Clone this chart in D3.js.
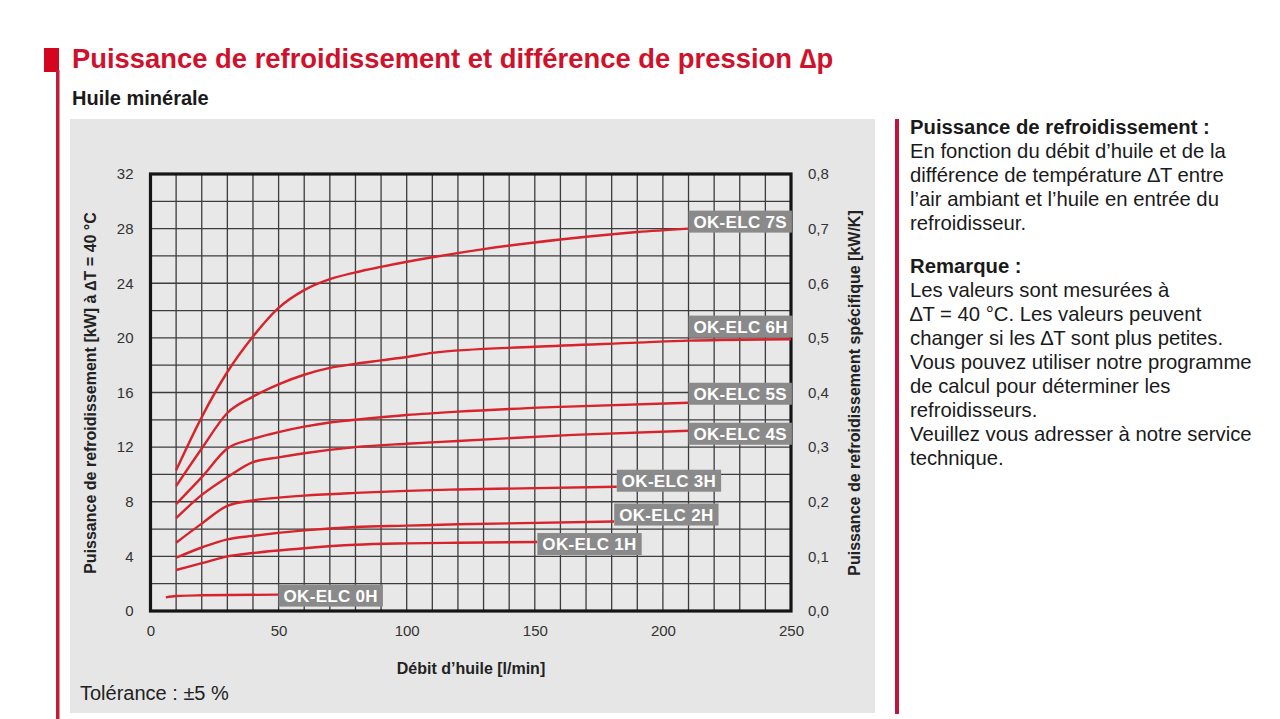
<!DOCTYPE html>
<html>
<head>
<meta charset="utf-8">
<script src="https://cdn.jsdelivr.net/npm/d3@7"></script>
<style>
  body { margin: 0; background: #fff; }
  svg { display: block; font-family: "Liberation Sans", Arial, sans-serif; }
</style>
</head>
<body>
<svg id="chart" width="1280" height="719"></svg>
<script>
(function () {
	'use strict';

	// values
	var flowTicks = [0, 50, 100, 150, 200, 250];
	var powerTicks = [0, 4, 8, 12, 16, 20, 24, 28, 32];
	var specTicks = [0, 0.1, 0.2, 0.3, 0.4, 0.5, 0.6, 0.7, 0.8];

	var models = ["OK-ELC 7S", "OK-ELC 6H", "OK-ELC 5S", "OK-ELC 4S", "OK-ELC 3H", "OK-ELC 2H", "OK-ELC 1H", "OK-ELC 0H"];

	// [flow l/min, power kW]
	var elc7S = [[10,10.3],[20,14.2],[30,17.5],[40,20.1],[50,22.2],[60,23.5],[70,24.3],[80,24.8],[90,25.2],[110,25.9],[130,26.5],[160,27.2],[190,27.75],[210,28.0]];
	var elc6H = [[10,9.15],[20,11.9],[30,14.5],[40,15.7],[50,16.6],[60,17.3],[70,17.8],[80,18.1],[90,18.35],[100,18.6],[110,18.9],[150,19.35],[190,19.65],[210,19.8],[250,19.9]];
	var elc5S = [[10,7.83],[20,9.8],[30,11.9],[40,12.6],[50,13.1],[60,13.5],[70,13.8],[80,14.0],[100,14.35],[120,14.6],[160,14.95],[210,15.25]];
	var elc4S = [[10,6.8],[20,8.5],[30,9.8],[40,10.9],[50,11.25],[60,11.55],[80,12.0],[100,12.25],[120,12.45],[165,12.9],[210,13.2]];
	var elc3H = [[10,5.0],[20,6.4],[30,7.7],[40,8.1],[50,8.3],[60,8.45],[80,8.65],[100,8.8],[120,8.9],[182,9.1]];
	var elc2H = [[10,3.9],[20,4.65],[30,5.25],[40,5.5],[60,5.9],[80,6.15],[100,6.25],[120,6.35],[181,6.55]];
	var elc1H = [[10,3.0],[20,3.5],[30,4.0],[40,4.25],[60,4.6],[80,4.85],[100,4.95],[120,5.0],[151,5.05]];
	var elc0H = [[6,1.0],[10,1.1],[20,1.15],[50,1.2]];

	// flow where each label box starts
	var labelFlow = [210, 210, 210, 210, 182, 181, 151, 50];

	var series = [elc7S, elc6H, elc5S, elc4S, elc3H, elc2H, elc1H, elc0H];

	var svg = d3.select("#chart");

	// page furniture
	svg.append("rect").attr("x", 44).attr("y", 48).attr("width", 15).attr("height", 24).attr("fill", "#d4061f");
	svg.append("rect").attr("x", 56).attr("y", 70).attr("width", 3.5).attr("height", 649).attr("fill", "#c41a3b");
	svg.append("text").attr("x", 72).attr("y", 68)
		.attr("font-size", 27.4).attr("font-weight", "bold").attr("fill", "#d0112b")
		.text("Puissance de refroidissement et différence de pression \u2206p");
	svg.append("text").attr("x", 72).attr("y", 105)
		.attr("font-size", 20).attr("font-weight", "bold").attr("fill", "#1a1a1a")
		.text("Huile minérale");

	svg.append("rect").attr("x", 70).attr("y", 119).attr("width", 805).attr("height", 594).attr("fill", "#e6e6e6");
	svg.append("rect").attr("x", 895).attr("y", 119).attr("width", 4).attr("height", 595).attr("fill", "#c0143c");

	var m = {left: 150.5, right: 791, top: 174, bottom: 611};

	var x = d3.scaleLinear().domain([0, 250]).range([m.left, m.right]);
	var y = d3.scaleLinear().domain([0, 32]).range([m.bottom, m.top]);
	var y2 = d3.scaleLinear().domain([0, 0.8]).range([m.bottom, m.top]);

	var plot = svg.append("g");

	// grid: 10 l/min and 2 kW
	plot.append("rect").attr("x", m.left).attr("y", m.top)
		.attr("width", m.right - m.left).attr("height", m.bottom - m.top).attr("fill", "#e8e8e8");

	plot.append("g").selectAll("line")
		.data(d3.range(10, 250, 10))
		.enter().append("line")
		.attr("x1", function(d){ return x(d); }).attr("x2", function(d){ return x(d); })
		.attr("y1", m.top).attr("y2", m.bottom)
		.attr("stroke", "#3c3c3c").attr("stroke-width", 1.3);

	plot.append("g").selectAll("line")
		.data(d3.range(2, 32, 2))
		.enter().append("line")
		.attr("x1", m.left).attr("x2", m.right)
		.attr("y1", function(d){ return y(d); }).attr("y2", function(d){ return y(d); })
		.attr("stroke", "#3c3c3c").attr("stroke-width", 1.3);

	plot.append("rect").attr("x", m.left).attr("y", m.top)
		.attr("width", m.right - m.left).attr("height", m.bottom - m.top)
		.attr("fill", "none").attr("stroke", "#151515").attr("stroke-width", 3.2);

	// axes
	var comma = d3.formatLocale({decimal: ",", thousands: ".", grouping: [3], currency: ["", "€"]}).format(".1f");

	var axisLeft = d3.axisLeft(y).tickValues(powerTicks).tickSize(0).tickPadding(17);
	var axisRight = d3.axisRight(y2).tickValues(specTicks).tickSize(0).tickPadding(17).tickFormat(comma);
	var axisBottom = d3.axisBottom(x).tickValues(flowTicks).tickSize(0).tickPadding(14);

	[
		plot.append("g").attr("transform", "translate(" + m.left + ",0)").call(axisLeft),
		plot.append("g").attr("transform", "translate(" + m.right + ",0)").call(axisRight),
		plot.append("g").attr("transform", "translate(0," + m.bottom + ")").call(axisBottom)
	].forEach(function(g){
		g.select(".domain").remove();
		g.selectAll("text").attr("font-size", 15).attr("fill", "#333")
			.attr("font-family", "Liberation Sans, Arial, sans-serif");
	});

	svg.append("text")
		.attr("transform", "translate(96,393) rotate(-90)")
		.attr("text-anchor", "middle").attr("font-size", 16).attr("font-weight", "bold").attr("fill", "#222")
		.text("Puissance de refroidissement [kW] à \u2206T = 40 °C");
	svg.append("text")
		.attr("transform", "translate(860,393) rotate(-90)")
		.attr("text-anchor", "middle").attr("font-size", 16).attr("font-weight", "bold").attr("fill", "#222")
		.text("Puissance de refroidissement spécifique [kW/K]");
	svg.append("text")
		.attr("x", 471).attr("y", 674)
		.attr("text-anchor", "middle").attr("font-size", 16).attr("font-weight", "bold").attr("fill", "#222")
		.text("Débit d\u2019huile [l/min]");
	svg.append("text")
		.attr("x", 80).attr("y", 700)
		.attr("font-size", 20).attr("fill", "#222")
		.text("Tolérance : \u00b15 %");

	// curves
	var line = d3.line()
		.x(function(d){ return x(d[0]); })
		.y(function(d){ return y(d[1]); })
		.curve(d3.curveMonotoneX);

	plot.append("g").selectAll("path")
		.data(series)
		.enter().append("path")
		.attr("d", line)
		.attr("fill", "none")
		.attr("stroke", "#d8232c")
		.attr("stroke-width", 2.4);

	// label boxes, shifted up from the curve end
	var boxShift = {"OK-ELC 7S": -18, "OK-ELC 6H": -25, "OK-ELC 5S": -20, "OK-ELC 4S": -8,
		"OK-ELC 3H": -17, "OK-ELC 2H": -18, "OK-ELC 1H": -9, "OK-ELC 0H": -10};

	models.forEach(function(name, i){
		var pts = series[i];
		var fx = labelFlow[i];
		var yv = d3.scaleLinear().domain(pts.map(function(p){ return p[0]; })).range(pts.map(function(p){ return p[1]; }))(fx);
		var bx = x(fx);
		var by = y(yv) + boxShift[name];
		var g = plot.append("g");
		var r = g.append("rect").attr("x", bx).attr("y", by).attr("height", 22).attr("fill", "#8a8a8a");
		var t = g.append("text").attr("x", bx + 5).attr("y", by + 17)
			.attr("font-size", 17).attr("font-weight", "bold").attr("fill", "#fff")
			.attr("letter-spacing", 0.3)
			.text(name);
		r.attr("width", t.node().getComputedTextLength() + 10);
	});

	// side notes
	var notes = [
		{t: "Puissance de refroidissement :", b: true, y: 134},
		{t: "En fonction du débit d\u2019huile et de la", y: 158},
		{t: "différence de température \u2206T entre", y: 182},
		{t: "l\u2019air ambiant et l\u2019huile en entrée du", y: 206},
		{t: "refroidisseur.", y: 230},
		{t: "Remarque :", b: true, y: 273},
		{t: "Les valeurs sont mesurées à", y: 297},
		{t: "\u2206T = 40 °C. Les valeurs peuvent", y: 321},
		{t: "changer si les \u2206T sont plus petites.", y: 345},
		{t: "Vous pouvez utiliser notre programme", y: 369},
		{t: "de calcul pour déterminer les", y: 393},
		{t: "refroidisseurs.", y: 417},
		{t: "Veuillez vous adresser à notre service", y: 441},
		{t: "technique.", y: 465}
	];
	svg.append("g").selectAll("text")
		.data(notes)
		.enter().append("text")
		.attr("x", 910)
		.attr("y", function(d){ return d.y; })
		.attr("font-size", 20.3)
		.attr("font-weight", function(d){ return d.b ? "bold" : "normal"; })
		.attr("fill", "#1a1a1a")
		.text(function(d){ return d.t; });
}());
</script>
</body>
</html>
